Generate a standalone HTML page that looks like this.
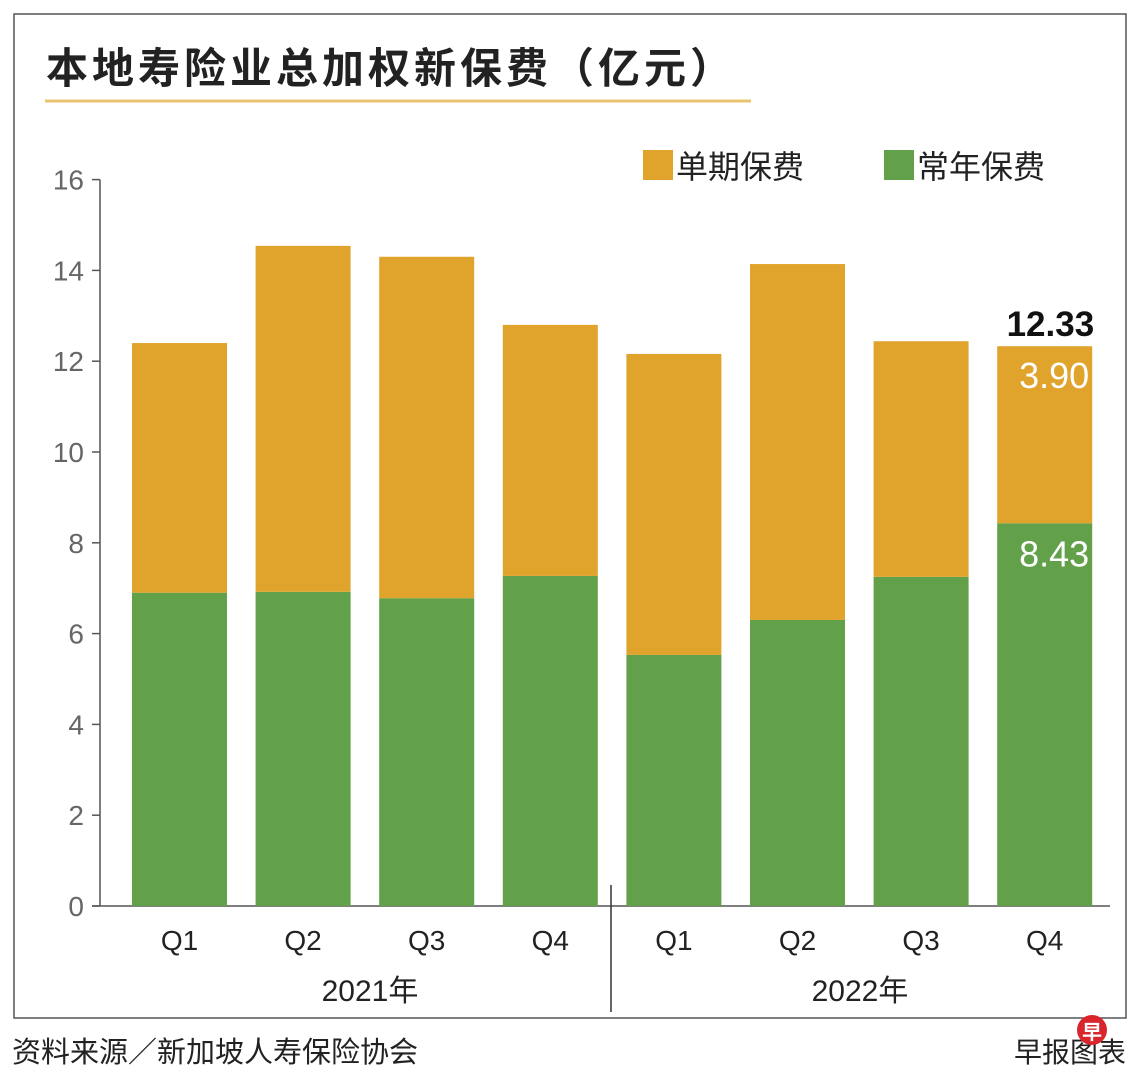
<!DOCTYPE html>
<html><head><meta charset="utf-8"><style>
body{margin:0;background:#fff;width:1140px;height:1081px;overflow:hidden;font-family:"Liberation Sans","Noto Sans CJK SC",sans-serif;}
svg text{font-family:"Liberation Sans","Noto Sans CJK SC",sans-serif;}
</style></head><body>
<svg id="c" width="1140" height="1081">
<rect x="14" y="14" width="1112" height="1004" fill="none" stroke="#555" stroke-width="1.5"/>
<text x="46" y="83" font-size="42" font-weight="bold" letter-spacing="4" fill="#222">本地寿险业总加权新保费（亿元）</text>
<line x1="45" y1="101" x2="751" y2="101" stroke="#e8c370" stroke-width="3"/>
<rect x="643" y="150" width="30" height="30" fill="#e0a42d"/>
<text x="676" y="178" font-size="32" fill="#222">单期保费</text>
<rect x="884" y="150" width="30" height="30" fill="#62a04a"/>
<text x="917" y="178" font-size="32" fill="#222">常年保费</text>
<g id="axes"></g><g id="bars"></g>
<line x1="611" y1="885" x2="611" y2="1012" stroke="#333" stroke-width="1.5"/>
<text x="370" y="1001" font-size="30" fill="#222" text-anchor="middle">2021年</text>
<text x="860" y="1001" font-size="30" fill="#222" text-anchor="middle">2022年</text>
<text x="12" y="1062" font-size="29" fill="#222">资料来源／新加坡人寿保险协会</text>
<text x="1126" y="1062" font-size="28" fill="#222" text-anchor="end">早报图表</text>
<circle cx="1092" cy="1030" r="15" fill="#d9262c"/>
<text x="1092" y="1039" font-size="20" fill="#fff" text-anchor="middle" font-weight="bold">早</text>
</svg>
<script>
const categories=["Q1","Q2","Q3","Q4","Q1","Q2","Q3","Q4"];
const annual=[6.9,6.92,6.78,7.27,5.53,6.3,7.25,8.43];
const single=[5.5,7.62,7.52,5.53,6.63,7.84,5.19,3.90];
const yTicks=[0,2,4,6,8,10,12,14,16];
const NS="http://www.w3.org/2000/svg";
const y0=906,pxU=45.4,x0=132,step=123.6,bw=95;
const ys=v=>y0-v*pxU;
function mk(tag,at,parent,txt){const e=document.createElementNS(NS,tag);for(const k in at)e.setAttribute(k,at[k]);if(txt!==undefined)e.textContent=txt;parent.appendChild(e);return e;}
const ax=document.getElementById('axes'),bg=document.getElementById('bars');
let a=mk('line',{x1:100,y1:ys(16),x2:100,y2:y0,stroke:'#555','stroke-width':1.5},ax);


a=mk('line',{x1:92,y1:y0,x2:1110,y2:y0,stroke:'#555','stroke-width':1.5},ax);


yTicks.forEach(t=>{
 let l=mk('line',{x1:92,y1:ys(t),x2:100,y2:ys(t),stroke:'#555','stroke-width':1.5},ax);
 
 
 let tx=mk('text',{x:84,y:ys(t)+10,'font-size':28,fill:'#666','text-anchor':'end'},ax,t);
 
 
});
categories.forEach((c,i)=>{
 const x=x0+i*step, tot=annual[i]+single[i];
 let g=mk('rect',{x:x,y:ys(annual[i]),width:bw,height:annual[i]*pxU,fill:'#62a04a'},bg);
 
 
 let o=mk('rect',{x:x,y:ys(tot),width:bw,height:single[i]*pxU,fill:'#e0a42d'},bg);
 
 
 let t=mk('text',{x:x+bw/2,y:950,'font-size':28,fill:'#222','text-anchor':'middle'},bg,c);
 
 
 if(i===categories.length-1){
  let a1=mk('text',{x:x+bw+2,y:ys(tot)-10,'font-size':35,'font-weight':'bold',fill:'#111','text-anchor':'end'},bg,tot.toFixed(2));
  
  
  let a2=mk('text',{x:x+bw-3,y:ys(tot)+42,'font-size':36,fill:'#fff','text-anchor':'end'},bg,single[i].toFixed(2));
  
  
  let a3=mk('text',{x:x+bw-3,y:ys(annual[i])+43,'font-size':36,fill:'#fff','text-anchor':'end'},bg,annual[i].toFixed(2));
  
  
 }
});
</script>
</body></html>
